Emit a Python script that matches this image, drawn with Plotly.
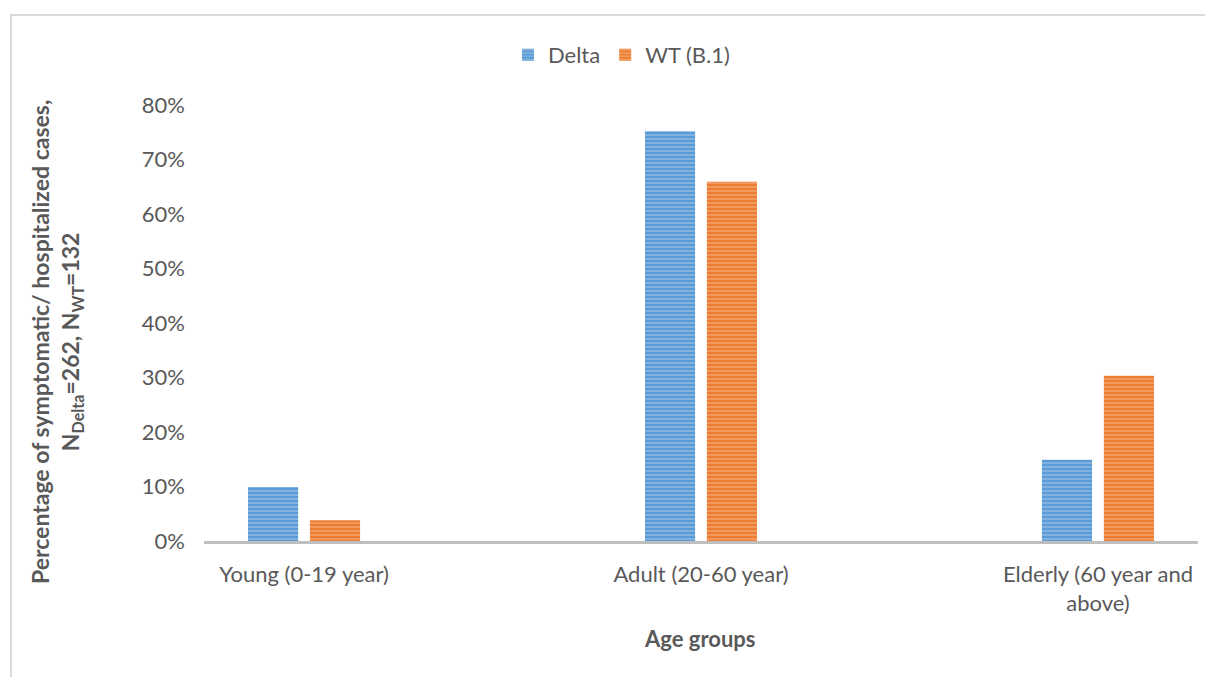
import plotly.graph_objects as go

categories = ["Young (0-19 year)", "Adult (20-60 year)", "Elderly (60 year and<br>above)"]
delta_values = [0.099, 0.752, 0.149]
wt_values = [0.038, 0.659, 0.303]
series_names = ["Delta", "WT (B.1)"]
y_ticks = [0, 0.1, 0.2, 0.3, 0.4, 0.5, 0.6, 0.7, 0.8]

FONT = "Lato, 'Open Sans', sans-serif"
GREY = "#595959"
FS = 22

fig = go.Figure()
fig.add_trace(go.Bar(
    x=categories, y=delta_values, name=series_names[0],
    marker=dict(color="#5B9BD5", line=dict(width=0),
                pattern=dict(shape="-", fgcolor="#C9DDF1", bgcolor="#5B9BD5",
                             size=4, solidity=0.35, fillmode="overlay")),
))
fig.add_trace(go.Bar(
    x=categories, y=wt_values, name=series_names[1],
    marker=dict(color="#ED7D31", line=dict(width=0),
                pattern=dict(shape="-", fgcolor="#F8CBAD", bgcolor="#ED7D31",
                             size=4, solidity=0.35, fillmode="overlay")),
))

# page body adds an 8px offset
OFF = 8
W, H = 1213 - OFF, 677 - OFF
L, R, T, B = 204 - OFF, 15, 105 - OFF, 136

fig.update_layout(
    width=W, height=H,
    margin=dict(l=L, r=R, t=T, b=B),
    paper_bgcolor="white", plot_bgcolor="white",
    barmode="group", bargap=0.688, bargroupgap=0.19,
    font=dict(family=FONT, size=FS, color=GREY),
    legend=dict(orientation="h", x=0.42, y=1.115, xanchor="center", yanchor="middle",
                font=dict(size=FS, color=GREY), itemwidth=30, traceorder="normal"),
    xaxis=dict(range=[-0.252, 2.252], showgrid=False, showline=True, linecolor="#BFBFBF",
               linewidth=3, ticks="", ticklabelstandoff=12, zeroline=False,
               tickfont=dict(size=FS, color=GREY)),
    yaxis=dict(range=[0, 0.8], tickvals=y_ticks, tickformat=".0%", showgrid=False,
               showline=False, zeroline=False, ticks="", ticklabelstandoff=18,
               tickfont=dict(size=FS, color=GREY)),
    shapes=[dict(type="rect", xref="paper", yref="paper",
                 x0=(11 - 204) / 994, x1=1.2, y0=-0.6, y1=(541 - 15) / 436,
                 line=dict(color="#D9D9D9", width=2), fillcolor="rgba(0,0,0,0)", layer="below")],
    annotations=[
        dict(text="<b>Percentage of symptomatic/ hospitalized cases,</b><br><b>N<sub>Delta</sub>=262, N<sub>WT</sub>=132</b>",
             xref="paper", yref="paper", x=(56 - 204) / 994, y=(541 - 342) / 436,
             textangle=-90, showarrow=False, xanchor="center", yanchor="middle",
             font=dict(size=23, color=GREY), align="center"),
        dict(text="<b>Age groups</b>", xref="paper", yref="paper",
             x=(700 - 204) / 994, y=(541 - 638) / 436, showarrow=False,
             xanchor="center", yanchor="middle", font=dict(size=FS, color=GREY)),
    ],
)

fig.write_html("out.html")
